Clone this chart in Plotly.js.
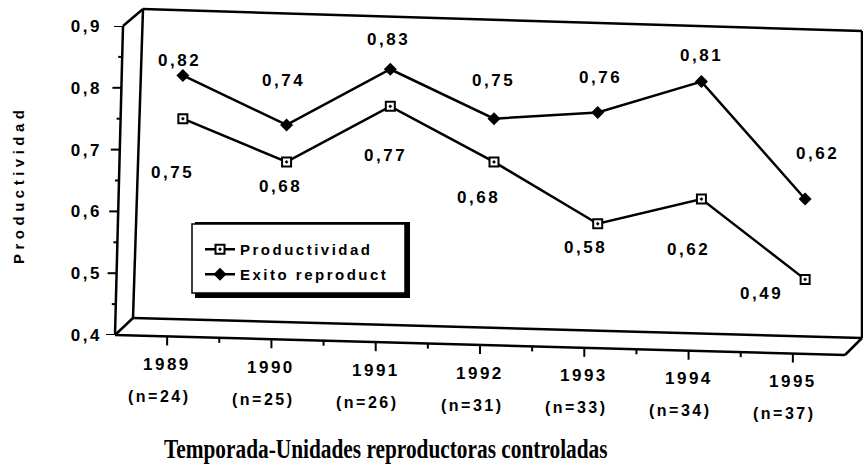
<!DOCTYPE html>
<html>
<head>
<meta charset="utf-8">
<script src="https://cdn.plot.ly/plotly-3.0.1.min.js"></script>
<style>
html, body { margin: 0; padding: 0; background: #fff; }
#chart { width: 863px; height: 472px; }
svg text { letter-spacing: 2.5px; }
g.annotation[data-index="0"] text { letter-spacing: 0px; transform-box: fill-box; transform-origin: center; transform: scaleX(0.79); }
g.annotation[data-index="1"] text { letter-spacing: 4.5px; }
</style>
</head>
<body>
<div id="chart"></div>
<script>
// ---- data ----
const years = [1989, 1990, 1991, 1992, 1993, 1994, 1995];
const nLabels = ['(n=24)', '(n=25)', '(n=26)', '(n=31)', '(n=33)', '(n=34)', '(n=37)'];
const productividad = [0.75, 0.68, 0.77, 0.68, 0.58, 0.62, 0.49];
const exito = [0.82, 0.74, 0.83, 0.75, 0.76, 0.81, 0.62];
const yTickVals = [0.4, 0.5, 0.6, 0.7, 0.8, 0.9];
const yTickText = ['0,4', '0,5', '0,6', '0,7', '0,8', '0,9'];
const seriesNames = ['Productividad', 'Exito reproduct'];
const xTitle = 'Temporada-Unidades reproductoras controladas';
const yTitle = 'Productividad';

// ---- label placement (pixels, relative to each point) ----
const exitoLabelDx = [-3, -3, -2, -1, 3, 0, 12];
const exitoLabelDy = [-15, -44, -30, -38, -35, -26, -46];
const prodLabelDx = [-10, -6, -5, -16, -12, -13, -44];
const prodLabelDy = [54, 25, 49, 36, 24, 50, 14];

// ---- geometry helpers (pixel -> paper) ----
const L = 115, T = 9, R = 863, B = 335;
const W = R - L, H = B - T;
const px = x => (x - L) / W;
const py = y => (B - y) / H;
const xMin = 1988.5, xMax = 1995.5;
const frontRight = 845, frontTop = 26;
const xPix = yr => L + (yr - xMin) * (frontRight - L) / (xMax - xMin);
const floorY = p => B + (p - L) * 20 / (frontRight - L);
const axisX = v => L + (v - 0.4) / 0.5 * 8;
const fmt = v => v.toFixed(2).replace('.', ',');

const black = '#000';
function seg(x0, y0, x1, y1, w) {
  return { type: 'line', xref: 'paper', yref: 'paper', x0: px(x0), y0: py(y0), x1: px(x1), y1: py(y1),
           line: { color: black, width: w || 2.5 } };
}

const shapes = [
  seg(115, 335, 123, 26),
  seg(123, 26, 143, 9),
  seg(143, 9, 862, 31),
  seg(143, 9, 133, 318),
  seg(133, 318, 862, 338),
  seg(862, 31, 862, 338),
  seg(115, 335, 845, 355),
  seg(115, 335, 133, 318),
  seg(845, 355, 862, 338)
];

// y ticks along the slanted front axis
yTickVals.forEach((v, i) => {
  shapes.push({ type: 'line', xref: 'paper', yref: 'y', x0: px(axisX(v) - 9), x1: px(axisX(v)), y0: v, y1: v,
                line: { color: black, width: 2 } });
  if (i < yTickVals.length - 1) {
    const m = (v + yTickVals[i + 1]) / 2;
    shapes.push({ type: 'line', xref: 'paper', yref: 'y', x0: px(axisX(m) - 4), x1: px(axisX(m)), y0: m, y1: m,
                  line: { color: black, width: 2 } });
  }
});
// x ticks along the slanted floor
years.forEach((yr, i) => {
  const p = xPix(yr), ly = floorY(p);
  shapes.push({ type: 'line', xref: 'x', yref: 'paper', x0: yr, x1: yr, y0: py(ly), y1: py(ly + 9),
                line: { color: black, width: 2 } });
  if (i < years.length - 1) {
    const m = (yr + years[i + 1]) / 2, pm = xPix(m), lm = floorY(pm);
    shapes.push({ type: 'line', xref: 'x', yref: 'paper', x0: m, x1: m, y0: py(lm), y1: py(lm + 5),
                  line: { color: black, width: 2 } });
  }
});
// legend box with shadow
shapes.push({ type: 'rect', xref: 'paper', yref: 'paper', x0: px(195), y0: py(222), x1: px(410), y1: py(298),
              fillcolor: black, line: { width: 0 } });
shapes.push({ type: 'rect', xref: 'paper', yref: 'paper', x0: px(192), y0: py(224), x1: px(405), y1: py(293),
              fillcolor: '#fff', line: { color: black, width: 1.5 } });

const sans = 'Liberation Sans, Arial, Helvetica, sans-serif';
const annotations = [
  { text: xTitle, xref: 'paper', yref: 'paper', x: px(386), y: py(449), xanchor: 'center', yanchor: 'middle',
    showarrow: false, font: { family: 'Liberation Serif, Times New Roman, serif', size: 27, weight: 'bold', color: black } },
  { text: yTitle, xref: 'paper', yref: 'paper', x: px(18), y: py(185), xanchor: 'center', yanchor: 'middle',
    textangle: -90, showarrow: false, font: { family: sans, size: 15, weight: 'bold', color: black } }
];
years.forEach((yr, i) => {
  const ly = floorY(xPix(yr));
  annotations.push({ text: String(yr), xref: 'x', yref: 'paper', x: yr, y: py(ly + 28), xanchor: 'center',
    yanchor: 'middle', showarrow: false, font: { family: sans, size: 17, weight: 'bold', color: black } });
  annotations.push({ text: nLabels[i], xref: 'x', yref: 'paper', x: yr, y: py(ly + 60), xanchor: 'center',
    yanchor: 'middle', xshift: -8, showarrow: false, font: { family: sans, size: 16, weight: 'bold', color: black } });
});
years.forEach((yr, i) => {
  annotations.push({ text: fmt(exito[i]), xref: 'x2', yref: 'y2', x: yr, y: exito[i], xshift: exitoLabelDx[i],
    yshift: -exitoLabelDy[i], showarrow: false, xanchor: 'center', yanchor: 'middle',
    font: { family: sans, size: 17, weight: 'bold', color: black } });
  annotations.push({ text: fmt(productividad[i]), xref: 'x2', yref: 'y2', x: yr, y: productividad[i], xshift: prodLabelDx[i],
    yshift: -prodLabelDy[i], showarrow: false, xanchor: 'center', yanchor: 'middle',
    font: { family: sans, size: 17, weight: 'bold', color: black } });
});

const traces = [
  { x: years, y: productividad, name: seriesNames[0], xaxis: 'x2', yaxis: 'y2', type: 'scatter', mode: 'lines+markers',
    line: { color: black, width: 2.5 }, legend: 'legend',
    marker: { symbol: 'square-dot', size: 9, color: '#fff', line: { color: black, width: 2 } } },
  { x: years, y: exito, name: seriesNames[1], xaxis: 'x2', yaxis: 'y2', type: 'scatter', mode: 'lines+markers',
    line: { color: black, width: 2.5 }, legend: 'legend2',
    marker: { symbol: 'diamond', size: 10, color: black } }
];

const layout = {
  width: 863, height: 472, autosize: false,
  paper_bgcolor: '#fff', plot_bgcolor: 'rgba(0,0,0,0)',
  margin: { l: L, r: 863 - R, t: T, b: 472 - B },
  font: { family: sans, color: black, size: 15, weight: 'bold' },
  showlegend: true,
  xaxis: { domain: [0, px(frontRight)], range: [xMin, xMax], showticklabels: false, ticks: '', showgrid: false,
           zeroline: false, showline: false, fixedrange: true },
  yaxis: { domain: [0, py(frontTop)], range: [0.4, 0.9], tickmode: 'array', tickvals: yTickVals, ticktext: yTickText,
           ticks: '', ticklabelstandoff: 12, showgrid: false, zeroline: false, showline: false,
           tickfont: { family: sans, size: 17, weight: 'bold', color: black }, fixedrange: true },
  xaxis2: { domain: [px(131), px(857)], range: [xMin, xMax], anchor: 'y2', visible: false, fixedrange: true },
  yaxis2: { domain: [0, py(frontTop)], range: [0.4, 0.9], anchor: 'x2', visible: false, fixedrange: true },
  legend: { x: px(200), y: py(233), xanchor: 'left', yanchor: 'top', bgcolor: 'rgba(0,0,0,0)', borderwidth: 0,
            font: { family: sans, size: 15, weight: 'bold', color: black } },
  legend2: { x: px(200), y: py(258), xanchor: 'left', yanchor: 'top', bgcolor: 'rgba(0,0,0,0)', borderwidth: 0,
             font: { family: sans, size: 15, weight: 'bold', color: black } },
  shapes: shapes,
  annotations: annotations
};

Plotly.newPlot('chart', traces, layout, { displayModeBar: false, staticPlot: true });
</script>
</body>
</html>
